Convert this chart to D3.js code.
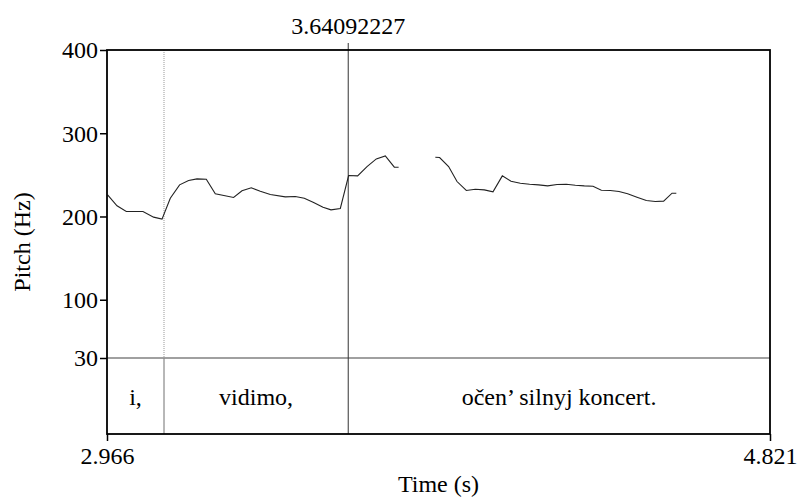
<!DOCTYPE html>
<html>
<head>
<meta charset="utf-8">
<script src="https://cdn.jsdelivr.net/npm/d3@7"></script>
<style>
  body { margin: 0; background: #fff; }
  svg text { font-family: "Liberation Serif", "Times New Roman", serif; fill: #000; }
</style>
</head>
<body>
<svg id="chart" width="799" height="498"></svg>
<script>
// time range of the view and the pitch axis
const timeRange = [2.966, 4.821];
const pitchRange = [30, 400];
const pitchTicks = [30, 100, 200, 300, 400];
const cursorTime = 3.64092227;

// pitch track (null = unvoiced gap)
const pitchTimes = [
  2.9677, 2.9940, 3.0200, 3.0667, 3.0964, 3.1199, 3.1431, 3.1691, 3.1943, 3.2178,
  3.2438, 3.2690, 3.3202, 3.3437, 3.3697, 3.3949, 3.4229, 3.4649, 3.4929, 3.5180,
  3.5441, 3.5704, 3.5928, 3.6188, 3.6420, 3.6672, 3.6935, 3.7195, 3.7447, 3.7699,
  3.7819, 3.8300,
  3.8846, 3.8966, 3.9218, 3.9453, 3.9713, 3.9965, 4.0217, 4.0460, 4.0721, 4.0964,
  4.1224, 4.1484, 4.1736, 4.1988, 4.2251, 4.2511, 4.2763, 4.3015, 4.3258, 4.3491,
  4.3742, 4.3986, 4.4226, 4.4489, 4.4750, 4.5001, 4.5234, 4.5469, 4.5589
];
const pitchValues = [
  226, 212.8, 206, 206, 199.2, 196.8, 222, 238, 243.2, 245.2,
  244.8, 227.2, 222.8, 230.8, 234.4, 230.4, 226.4, 223.6, 224, 222,
  216.8, 211.2, 208, 209.6, 249.2, 248.8, 260, 269.2, 272.8, 259.2,
  259.2, null,
  271.2, 270.8, 260, 242, 231.2, 232.8, 232, 229.6, 248.8, 242.4,
  240, 238.8, 238, 236.8, 238.4, 238.8, 237.6, 236.8, 236.4, 231.6,
  231.2, 230, 227.2, 223.2, 219.2, 218, 218.4, 228, 228
];

// text tier
const boundaries = [3.1255, 3.64092227];
const intervalLabels = ["i,", "vidimo,", "očen’ silnyj koncert."];

const svg = d3.select("#chart");
const plotLeft = 107, plotRight = 770, plotTop = 50, tierTop = 358, plotBottom = 434;
const fs = 24;

const x = d3.scaleLinear().domain(timeRange).range([plotLeft, plotRight]);
const y = d3.scaleLinear().domain(pitchRange).range([tierTop, plotTop]);

// tier separator
svg.append("line")
  .attr("x1", plotLeft).attr("x2", plotRight)
  .attr("y1", tierTop).attr("y2", tierTop)
  .attr("stroke", "#808080").attr("stroke-width", 1.5);

// boundaries: dotted in pitch area, solid in tier
svg.append("line")
  .attr("x1", x(boundaries[0])).attr("x2", x(boundaries[0]))
  .attr("y1", plotTop).attr("y2", tierTop)
  .attr("stroke", "#999").attr("stroke-width", 1).attr("stroke-dasharray", "1,1");
svg.append("line")
  .attr("x1", x(boundaries[0])).attr("x2", x(boundaries[0]))
  .attr("y1", tierTop).attr("y2", plotBottom)
  .attr("stroke", "#888").attr("stroke-width", 1.2);

// cursor
svg.append("line")
  .attr("x1", x(cursorTime)).attr("x2", x(cursorTime))
  .attr("y1", 43).attr("y2", plotBottom)
  .attr("stroke", "#333").attr("stroke-width", 1);
svg.append("text")
  .attr("x", x(cursorTime)).attr("y", 34)
  .attr("text-anchor", "middle").attr("font-size", fs)
  .text(cursorTime.toFixed(8));

// interval labels
const edges = [timeRange[0], ...boundaries, timeRange[1]];
intervalLabels.forEach((lab, i) => {
  svg.append("text")
    .attr("x", (x(edges[i]) + x(edges[i + 1])) / 2)
    .attr("y", 405)
    .attr("text-anchor", "middle").attr("font-size", fs)
    .text(lab);
});

// pitch track
const pts = pitchTimes.map((t, i) => ({ t, f: pitchValues[i] }));
const line = d3.line().defined(d => d.f != null).x(d => x(d.t)).y(d => y(d.f));
svg.append("path")
  .attr("d", line(pts))
  .attr("fill", "none").attr("stroke", "#222").attr("stroke-width", 1.1);

// frame
svg.append("rect")
  .attr("x", plotLeft).attr("y", plotTop)
  .attr("width", plotRight - plotLeft).attr("height", plotBottom - plotTop)
  .attr("fill", "none").attr("stroke", "#000").attr("stroke-width", 1.8);

// y axis
const yAxis = svg.append("g")
  .attr("transform", `translate(${plotLeft},0)`)
  .call(d3.axisLeft(y).tickValues(pitchTicks).tickSize(7).tickPadding(2).tickFormat(d3.format("d")));
yAxis.select(".domain").remove();
yAxis.selectAll("line").attr("stroke", "#000").attr("stroke-width", 1.5);
yAxis.selectAll("text").attr("font-size", fs).attr("dy", "0.33em");

// x axis: only the two ends
const xAxis = svg.append("g")
  .attr("transform", `translate(0,${plotBottom})`)
  .call(d3.axisBottom(x).tickValues(timeRange).tickSize(7).tickPadding(6).tickFormat(d3.format(".3f")));
xAxis.select(".domain").remove();
xAxis.selectAll("line").attr("stroke", "#000").attr("stroke-width", 1.5);
xAxis.selectAll("text").attr("font-size", fs);

// axis titles
svg.append("text")
  .attr("x", (plotLeft + plotRight) / 2).attr("y", 492)
  .attr("text-anchor", "middle").attr("font-size", fs)
  .text("Time (s)");
svg.append("text")
  .attr("transform", `translate(30,${(plotTop + plotBottom) / 2}) rotate(-90)`)
  .attr("text-anchor", "middle").attr("font-size", fs)
  .text("Pitch (Hz)");
</script>
</body>
</html>
